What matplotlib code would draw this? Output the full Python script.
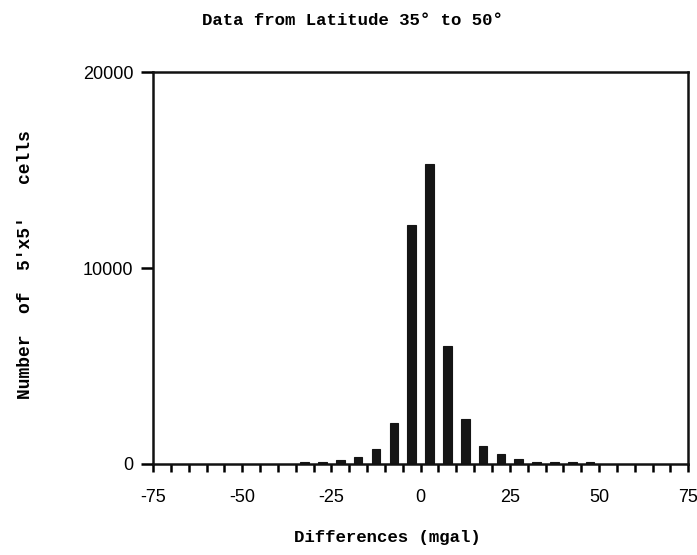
import matplotlib

matplotlib.use("Agg")

import matplotlib.pyplot as plt

# bin centres (mgal) and counts
bin_centres = [-32.5, -27.5, -22.5, -17.5, -12.5, -7.5, -2.5, 2.5, 7.5,
               12.5, 17.5, 22.5, 27.5, 32.5, 37.5, 42.5, 47.5]
counts = [100, 100, 200, 350, 750, 2100, 12200, 15300, 6000,
          2300, 900, 500, 250, 100, 100, 100, 100]

x_ticks = list(range(-75, 80, 5))
x_labels = ["-75", "-50", "-25", "0", "25", "50", "75"]
y_ticks = [0, 10000, 20000]

mono = "Liberation Mono"
sans = "Liberation Sans"

fig = plt.figure(figsize=(6.97, 5.55), dpi=100)
ax = fig.add_axes([0.2195, 0.164, 0.768, 0.706])

ax.bar(bin_centres, counts, width=2.4, color="#151515", edgecolor="#151515", linewidth=0.8)

ax.set_xlim(-75, 75)
ax.set_ylim(0, 20000)

ax.set_xticks(x_ticks)
ax.set_xticklabels([str(t) if str(t) in x_labels else "" for t in x_ticks],
                   fontfamily=sans, fontsize=13)
ax.set_yticks(y_ticks)
ax.set_yticklabels([str(t) for t in y_ticks], fontfamily=sans, fontsize=13)
ax.tick_params(axis="x", direction="out", length=6, width=1.8, pad=12)
ax.tick_params(axis="y", direction="out", length=9, width=1.8, pad=5)

for spine in ax.spines.values():
    spine.set_linewidth(1.8)
    spine.set_color("#111111")

fig.text(0.505, 0.963, "Data from Latitude 35\u00b0 to 50\u00b0", ha="center", va="center",
         fontfamily=mono, fontweight="bold", fontsize=12.5)
fig.text(0.556, 0.032, "Differences (mgal)", ha="center", va="center",
         fontfamily=mono, fontweight="bold", fontsize=12.5)
fig.text(0.036, 0.523, "Number  of  5'x5'   cells", rotation=90, ha="center", va="center",
         fontfamily=mono, fontweight="bold", fontsize=13)

fig.savefig("out.png", dpi=100)
